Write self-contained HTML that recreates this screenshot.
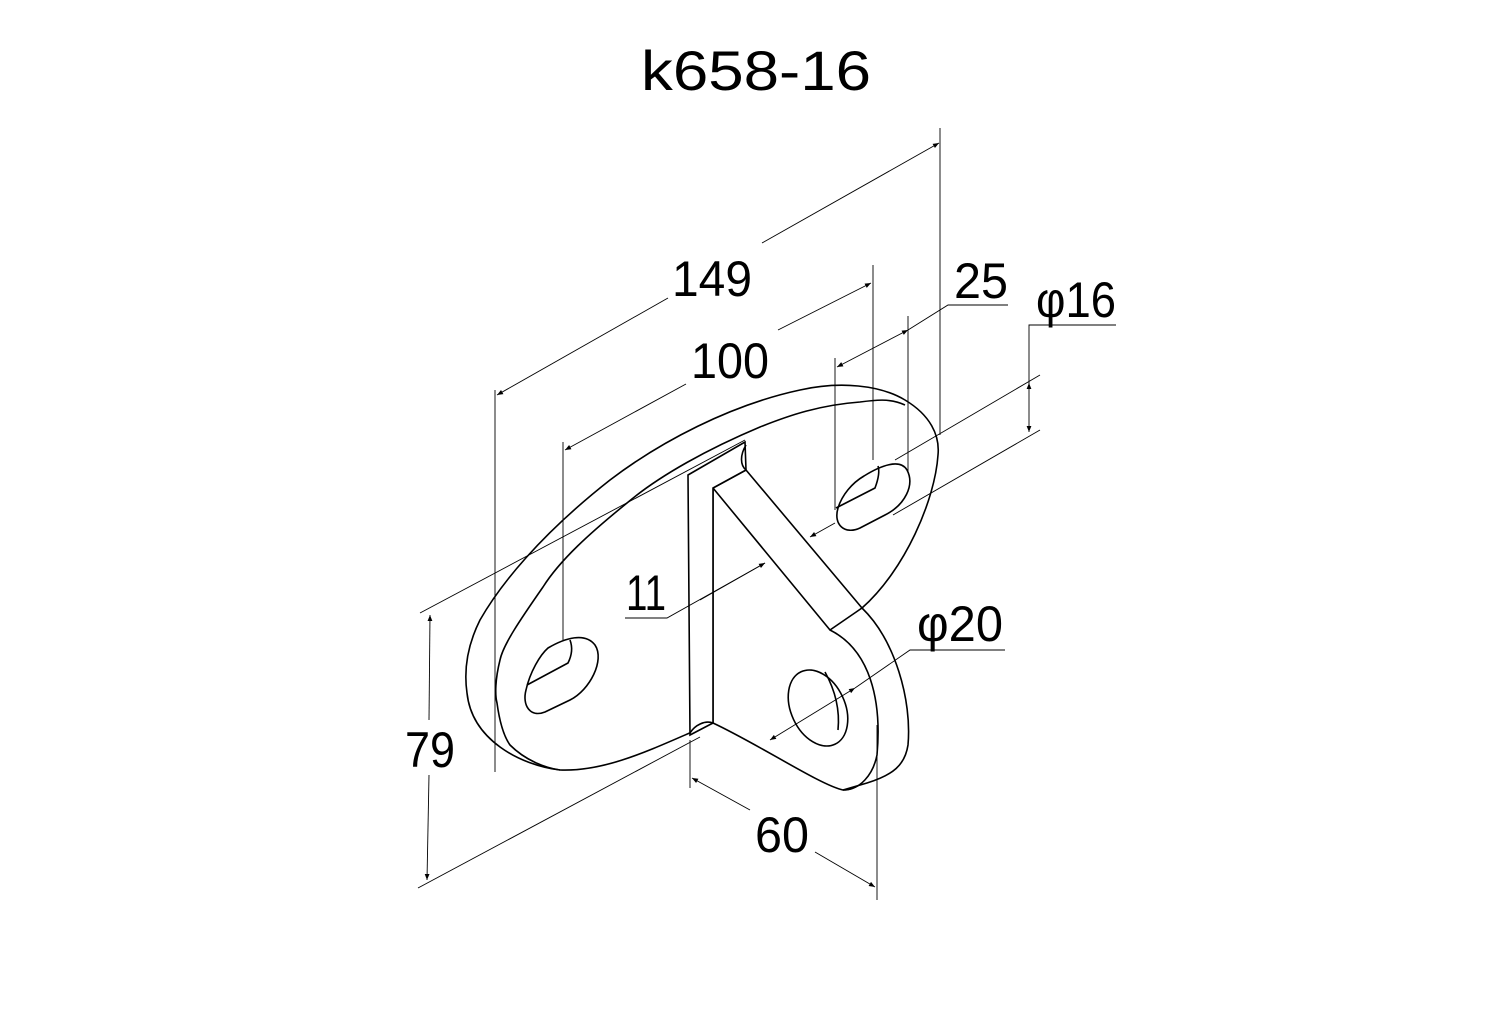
<!DOCTYPE html>
<html><head><meta charset="utf-8"><style>
html,body{margin:0;padding:0;background:#fff}
svg{display:block}
text{font-family:"Liberation Sans","DejaVu Sans",sans-serif;fill:#000}
</style></head><body>
<svg width="1506" height="1024" viewBox="0 0 1506 1024" xmlns="http://www.w3.org/2000/svg">
<defs>
<marker id="a" viewBox="0 0 10 10" refX="10" refY="5" markerWidth="14" markerHeight="6" orient="auto-start-reverse" markerUnits="userSpaceOnUse"><path d="M0,1 L10,5 L0,9 z" fill="#000"/></marker>
</defs>
<text x="756" y="90" font-size="56" text-anchor="middle" textLength="230" lengthAdjust="spacingAndGlyphs">k658-16</text>

<g fill="none" stroke="#000" stroke-width="1.6">
<!-- plate outer -->
<path d="M560,770 C520,765 472,740 467,693 C463,665 470,640 480,620 C500,585 540,535 610,480 C660,442 730,405 800,390 C840,381 880,385 905,400 C930,415 940,435 938,455 C935,500 905,570 862,608 L713,723 C660,745 610,772 560,770 Z" fill="#fff"/>
<!-- plate back edge -->
<path d="M905,405 C890,398 875,400 860,402 C820,405 790,415 760,427 C710,448 660,475 627,503 C590,533 560,560 543,587 C520,620 503,645 500,660 C495,680 495,695 497,703 C500,725 505,738 510,745 C525,760 545,768 560,770"/>
<!-- slots -->
<path d="M548,648 C565,638 585,632 595,645 C605,660 590,690 570,700 L545,712 C530,718 522,705 526,690 C530,672 540,655 548,648 Z" fill="#fff"/>
<path d="M527,685 L568,663 C572,655 573,648 570,640"/>
<path d="M864,476 C880,466 900,458 907,470 C915,485 905,505 885,515 L860,528 C845,535 833,525 838,508 C842,495 852,483 864,476 Z" fill="#fff"/>
<path d="M836,508 L875,488 C878,480 880,472 878,466"/>
<!-- bracket web -->
<path d="M713,488 L830,630 C870,650 882,700 877,755 C873,775 860,790 843,790 C820,785 760,745 713,723 Z" fill="#fff"/>
<path d="M830,630 L862,608 C895,640 912,700 908,745 C905,765 893,775 867,783 L843,790" fill="#fff"/>
<path d="M830,630 C870,650 882,700 877,755 C873,775 860,790 843,790"/>
<path d="M713,488 L746,470 L862,608"/>
<!-- rib -->
<path d="M688,475 L745,442 L746,470 L713,488 L713,723 L690,735 Z" fill="#fff"/>
<path d="M746,445 C740,455 740,465 746,470"/>
<path d="M690,733 C695,725 705,720 713,723"/>
<!-- round hole -->
<ellipse cx="818" cy="708" rx="27" ry="40" transform="rotate(-25 818 708)" fill="#fff"/>
<path d="M825,672 C835,690 840,710 838,730"/>
</g>

<g fill="none" stroke="#000" stroke-width="0.9">
<!-- 149 -->
<line x1="495" y1="390" x2="495" y2="772"/>
<line x1="940" y1="128" x2="940" y2="435"/>
<line x1="497" y1="395" x2="668" y2="298" marker-start="url(#a)"/>
<line x1="762" y1="243" x2="939" y2="143" marker-end="url(#a)"/>
<!-- 100 -->
<line x1="563" y1="442" x2="563" y2="640"/>
<line x1="873" y1="265" x2="873" y2="460"/>
<line x1="565" y1="450" x2="686" y2="384" marker-start="url(#a)"/>
<line x1="778" y1="330" x2="871" y2="283" marker-end="url(#a)"/>
<!-- 25 -->
<line x1="835" y1="358" x2="835" y2="510"/>
<line x1="908" y1="316" x2="908" y2="472"/>
<line x1="837" y1="367" x2="908" y2="330" marker-start="url(#a)" marker-end="url(#a)"/>
<polyline points="908,330 948,305 1008,305"/>
<!-- phi16 -->
<line x1="895" y1="460" x2="1040" y2="375"/>
<line x1="893" y1="515" x2="1040" y2="430"/>
<polyline points="1116,325 1029,325 1029,383"/>
<line x1="1029" y1="383" x2="1029" y2="432" marker-start="url(#a)" marker-end="url(#a)"/>
<!-- 11 -->
<polyline points="625,618 667,618 765,563"/>
<line x1="700" y1="600" x2="765" y2="563" marker-end="url(#a)"/>
<line x1="810" y1="537" x2="835" y2="523" marker-start="url(#a)"/>
<!-- phi20 -->
<line x1="770" y1="740" x2="855" y2="688" marker-start="url(#a)" marker-end="url(#a)"/>
<polyline points="855,688 910,650 1005,650"/>
<!-- 79 -->
<line x1="420" y1="613" x2="745" y2="440"/>
<line x1="418" y1="888" x2="700" y2="737"/>
<line x1="430" y1="615" x2="429" y2="720" marker-start="url(#a)"/>
<line x1="429" y1="775" x2="427" y2="880" marker-end="url(#a)"/>
<!-- 60 -->
<line x1="690" y1="740" x2="690" y2="788"/>
<line x1="877" y1="725" x2="877" y2="900"/>
<line x1="692" y1="778" x2="750" y2="810" marker-start="url(#a)"/>
<line x1="815" y1="852" x2="875" y2="887" marker-end="url(#a)"/>
</g>

<g font-size="50">
<text x="712" y="296" text-anchor="middle" textLength="80" lengthAdjust="spacingAndGlyphs">149</text>
<text x="730" y="378" text-anchor="middle" textLength="78" lengthAdjust="spacingAndGlyphs">100</text>
<text x="981" y="298" text-anchor="middle" textLength="54" lengthAdjust="spacingAndGlyphs">25</text>
<text x="1076" y="317" text-anchor="middle" textLength="80" lengthAdjust="spacingAndGlyphs">φ16</text>
<text x="646" y="610" text-anchor="middle" textLength="40" lengthAdjust="spacingAndGlyphs">11</text>
<text x="960" y="641" text-anchor="middle" textLength="86" lengthAdjust="spacingAndGlyphs">φ20</text>
<text x="430" y="767" text-anchor="middle" textLength="50" lengthAdjust="spacingAndGlyphs">79</text>
<text x="782" y="852" text-anchor="middle" textLength="54" lengthAdjust="spacingAndGlyphs">60</text>
</g>
</svg>
</body></html>
